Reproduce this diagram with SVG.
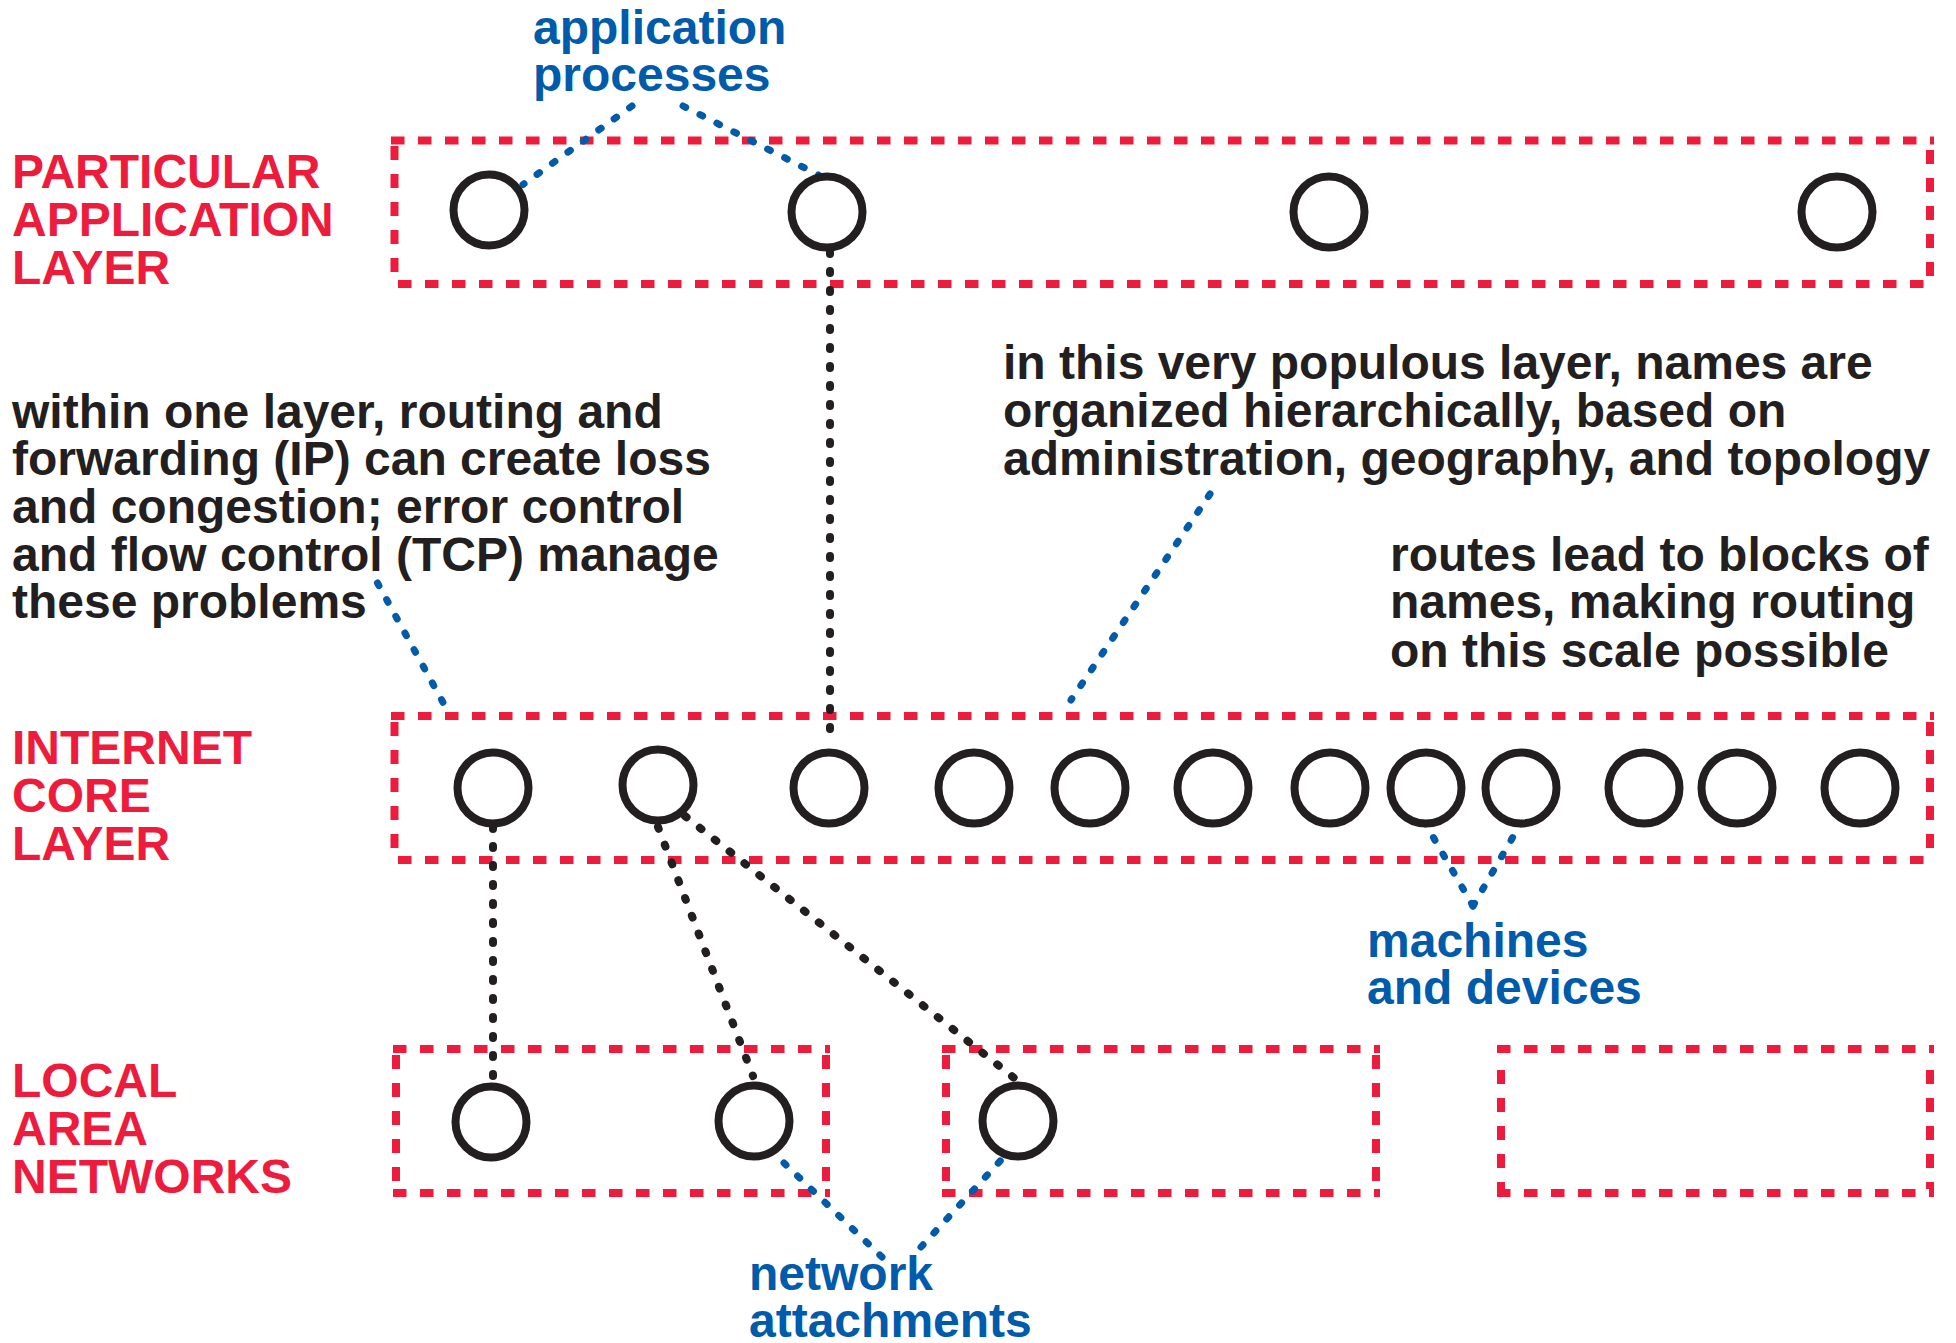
<svg xmlns="http://www.w3.org/2000/svg" width="1956" height="1343" viewBox="0 0 1956 1343">
  <style>
    text { font-family: "Liberation Sans", Arial, Helvetica, sans-serif; font-weight: bold; font-size: 48px; }
    .layer { fill: #ED1C3C; }
    .note { fill: #231F20; }
    .callout { fill: #005BAA; }
    .frame line { stroke: #ED1C3C; stroke-width: 8; fill: none; }
    .frame .h { stroke-dasharray: 13.5 13.5; }
    .frame .v { stroke-dasharray: 14 14; }
    .node circle { fill: #FFFFFF; stroke: #231F20; stroke-width: 8; }
    .link { stroke: #231F20; stroke-width: 8; stroke-linecap: round; stroke-dasharray: 2 17; fill: none; }
    .pointer { stroke: #005BAA; stroke-width: 7; stroke-linecap: round; stroke-dasharray: 3 16; fill: none; }
  </style>

  <!-- layer frames -->
  <g id="frame-application" class="frame">
    <line class="h" x1="391" y1="140.5" x2="1934" y2="140.5"/>
    <line class="h" x1="398" y1="284" x2="1934" y2="284"/>
    <line class="v" x1="394.5" y1="146" x2="394.5" y2="280"/>
    <line class="v" x1="1930" y1="150" x2="1930" y2="280"/>
  </g>
  <g id="frame-core" class="frame">
    <line class="h" x1="391" y1="716" x2="1934" y2="716"/>
    <line class="h" x1="398" y1="860" x2="1934" y2="860"/>
    <line class="v" x1="394.5" y1="722" x2="394.5" y2="856"/>
    <line class="v" x1="1930" y1="722" x2="1930" y2="856"/>
  </g>
  <g id="frame-lan-1" class="frame">
    <line class="h" x1="393" y1="1049" x2="830" y2="1049"/>
    <line class="h" x1="393" y1="1193" x2="830" y2="1193"/>
    <line class="v" x1="396" y1="1055" x2="396" y2="1189"/>
    <line class="v" x1="826" y1="1055" x2="826" y2="1189"/>
  </g>
  <g id="frame-lan-2" class="frame">
    <line class="h" x1="942" y1="1049" x2="1380" y2="1049"/>
    <line class="h" x1="942" y1="1193" x2="1380" y2="1193"/>
    <line class="v" x1="946" y1="1055" x2="946" y2="1189"/>
    <line class="v" x1="1376" y1="1055" x2="1376" y2="1189"/>
  </g>
  <g id="frame-lan-3" class="frame">
    <line class="h" x1="1497" y1="1049" x2="1934" y2="1049"/>
    <line class="h" x1="1497" y1="1193" x2="1934" y2="1193"/>
    <line class="v" x1="1501" y1="1070" x2="1501" y2="1189"/>
    <line class="v" x1="1930" y1="1070" x2="1930" y2="1189"/>
  </g>

  <!-- connectors -->
  <g id="connectors">
    <line class="link" x1="830" y1="252" x2="830" y2="736"/>
    <line class="link" x1="493" y1="827" x2="493" y2="1076"/>
    <line class="link" x1="658" y1="827" x2="753" y2="1076"/>
    <line class="link" x1="685" y1="816" x2="1018" y2="1081"/>

    <line class="pointer" x1="632" y1="106" x2="523" y2="184.5"/>
    <line class="pointer" x1="683" y1="106" x2="818.5" y2="175"/>
    <line class="pointer" x1="377.5" y1="583" x2="445" y2="706"/>
    <line class="pointer" x1="1210" y1="494" x2="1071" y2="700"/>
    <line class="pointer" x1="1473" y1="906" x2="1425" y2="823"/>
    <line class="pointer" x1="1473" y1="906" x2="1521" y2="823"/>
    <line class="pointer" x1="882" y1="1257" x2="784" y2="1163"/>
    <line class="pointer" x1="921" y1="1247" x2="1002" y2="1159"/>
  </g>

  <!-- application processes -->
  <g id="app-1" class="node"><circle cx="489" cy="210" r="35.5"/></g>
  <g id="app-2" class="node"><circle cx="827" cy="212" r="35.5"/></g>
  <g id="app-3" class="node"><circle cx="1329" cy="212" r="35.5"/></g>
  <g id="app-4" class="node"><circle cx="1837" cy="212" r="35.5"/></g>

  <!-- internet core machines -->
  <g id="core-1" class="node"><circle cx="493" cy="788" r="35.5"/></g>
  <g id="core-2" class="node"><circle cx="658" cy="785" r="35.5"/></g>
  <g id="core-3" class="node"><circle cx="829" cy="788" r="35.5"/></g>
  <g id="core-4" class="node"><circle cx="974" cy="788" r="35.5"/></g>
  <g id="core-5" class="node"><circle cx="1090" cy="788" r="35.5"/></g>
  <g id="core-6" class="node"><circle cx="1213" cy="788" r="35.5"/></g>
  <g id="core-7" class="node"><circle cx="1330" cy="788" r="35.5"/></g>
  <g id="core-8" class="node"><circle cx="1426" cy="788" r="35.5"/></g>
  <g id="core-9" class="node"><circle cx="1521" cy="788" r="35.5"/></g>
  <g id="core-10" class="node"><circle cx="1644" cy="788" r="35.5"/></g>
  <g id="core-11" class="node"><circle cx="1737" cy="788" r="35.5"/></g>
  <g id="core-12" class="node"><circle cx="1860" cy="788" r="35.5"/></g>

  <!-- LAN attachments -->
  <g id="lan-1" class="node"><circle cx="491" cy="1122" r="35.5"/></g>
  <g id="lan-2" class="node"><circle cx="754" cy="1121" r="35.5"/></g>
  <g id="lan-3" class="node"><circle cx="1018" cy="1121" r="35.5"/></g>

  <!-- layer titles -->
  <g id="label-application">
    <text class="layer"><tspan x="12" y="188">PARTICULAR</tspan><tspan x="12" y="236">APPLICATION</tspan><tspan x="12" y="284">LAYER</tspan></text>
  </g>
  <g id="label-core">
    <text class="layer"><tspan x="12" y="764">INTERNET</tspan><tspan x="12" y="812">CORE</tspan><tspan x="12" y="860">LAYER</tspan></text>
  </g>
  <g id="label-lan">
    <text class="layer"><tspan x="12" y="1097">LOCAL</tspan><tspan x="12" y="1145">AREA</tspan><tspan x="12" y="1193">NETWORKS</tspan></text>
  </g>

  <!-- annotations -->
  <g id="note-processes">
    <text class="callout"><tspan x="533" y="44">application</tspan><tspan x="533" y="91">processes</tspan></text>
  </g>
  <g id="note-loss">
    <text class="note"><tspan x="12" y="428">within one layer, routing and</tspan><tspan x="12" y="475">forwarding (IP) can create loss</tspan><tspan x="12" y="523">and congestion; error control</tspan><tspan x="12" y="571">and flow control (TCP) manage</tspan><tspan x="12" y="618">these problems</tspan></text>
  </g>
  <g id="note-names">
    <text class="note"><tspan x="1003" y="379">in this very populous layer, names are</tspan><tspan x="1003" y="427">organized hierarchically, based on</tspan><tspan x="1003" y="475">administration, geography, and topology</tspan></text>
  </g>
  <g id="note-routes">
    <text class="note"><tspan x="1390" y="571">routes lead to blocks of</tspan><tspan x="1390" y="618">names, making routing</tspan><tspan x="1390" y="667">on this scale possible</tspan></text>
  </g>
  <g id="note-machines">
    <text class="callout"><tspan x="1367" y="957">machines</tspan><tspan x="1367" y="1004">and devices</tspan></text>
  </g>
  <g id="note-attachments">
    <text class="callout"><tspan x="749" y="1290">network</tspan><tspan x="749" y="1337">attachments</tspan></text>
  </g>
</svg>
